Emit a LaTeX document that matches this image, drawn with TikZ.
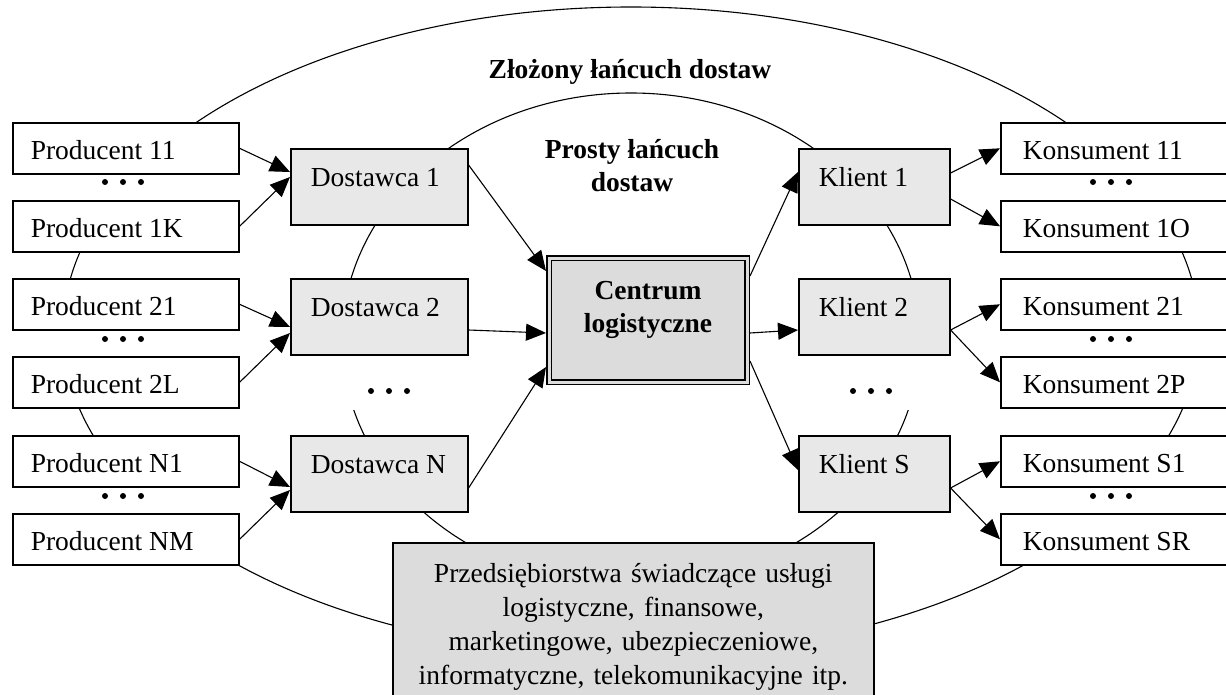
\documentclass[tikz,border=0pt]{standalone}
\usepackage{fontspec}
\setmainfont{Liberation Serif}
\usetikzlibrary{arrows.meta,calc}
\definecolor{boxgray}{HTML}{E8E8E8}
\definecolor{cgray}{HTML}{DCDCDC}
\begin{document}
\begin{tikzpicture}[x=1pt,y=-1pt,
  font=\fontsize{27.5}{34}\selectfont,
  pbox/.style={draw, line width=1.6pt, fill=white, anchor=north west,
    minimum height=51pt, inner xsep=18pt, inner ysep=0pt,
    text width=190pt, align=flush left, text height=37pt, text depth=14pt},
  konbox/.style={pbox, inner xsep=22pt, text width=196pt},
  dbox/.style={draw, line width=1.6pt, fill=boxgray, anchor=north west,
    inner xsep=20pt, inner ysep=0pt, text width=137pt, align=flush left,
    text height=38pt, text depth=38pt},
  kbox/.style={dbox, text width=111pt},
  cbox/.style={draw, line width=1.5pt, double=cgray, double distance=3pt,
    fill=cgray, anchor=north west, inner sep=0pt, outer sep=3pt,
    text width=198pt, align=center, text height=41pt, text depth=83pt,
    font=\fontsize{27.5}{33}\selectfont\bfseries},
  bbox/.style={draw, line width=1.6pt, fill=cgray, anchor=north west,
    inner sep=0pt, text width=481pt, align=center, text height=40pt,
    text depth=140pt},
  cover/.style={fill=white, inner sep=0pt},
  ring/.style={line width=1.1pt},
  conn/.style={line width=1.1pt, -{Triangle[length=20pt,width=17pt]}},
  lbl/.style={font=\fontsize{27.5}{33}\selectfont\bfseries, align=center}
]
\useasboundingbox (0,0) rectangle (1226,695);

% supply chain rings
\draw[ring] (631,331) ellipse [x radius=568pt, y radius=324pt];
\draw[ring] (631,340) ellipse [x radius=289pt, y radius=247pt];

% white gaps holding the dots
\node[cover, minimum width=226pt, minimum height=31pt] (gp1) at (125,186.5) {};
\node[cover, minimum width=226pt, minimum height=30pt] (gp2) at (125,343) {};
\node[cover, minimum width=226pt, minimum height=30pt] (gp3) at (125,500) {};
\node[cover, minimum width=240pt, minimum height=31pt] (gk1) at (1120,186.5) {};
\node[cover, minimum width=240pt, minimum height=30pt] (gk2) at (1120,343) {};
\node[cover, minimum width=240pt, minimum height=30pt] (gk3) at (1120,500) {};
\node[cover, minimum width=90pt, minimum height=56pt] (gd) at (385,382) {};
\node[cover, minimum width=90pt, minimum height=56pt] (gkl) at (878,382) {};

\foreach \y in {182,339,496} {
  \foreach \x in {105,123,141} \fill (\x,\y) circle (3pt);
  \foreach \x in {1093,1111,1129} \fill (\x,\y) circle (3pt);
}
\foreach \x in {371,389,407} \fill (\x,391) circle (3pt);
\foreach \x in {853,871,889} \fill (\x,391) circle (3pt);

% labels
\node[lbl] (zl) at (630,72) {Złożony łańcuch dostaw};
\node[lbl] (pl) at (632,166) {Prosty łańcuch\\dostaw};

% producers
\node[pbox, minimum width=226pt] (p11) at (12,122) {Producent 11};
\node[pbox] (p1k) at (12,200) {Producent 1K};
\node[pbox] (p21) at (12,278) {Producent 21};
\node[pbox] (p2l) at (12,356) {Producent 2L};
\node[pbox] (pn1) at (12,435) {Producent N1};
\node[pbox] (pnm) at (12,513) {Producent NM};

% suppliers
\node[dbox] (d1) at (290,148) {Dostawca 1};
\node[dbox] (d2) at (290,278) {Dostawca 2};
\node[dbox] (dn) at (290,435) {Dostawca N};

% centre
\node[cbox] (c) at (546,255) {Centrum\\logistyczne};

% clients
\node[kbox] (k1) at (798,148) {Klient 1};
\node[kbox] (k2) at (798,278) {Klient 2};
\node[kbox] (ks) at (798,435) {Klient S};

% consumers
\node[konbox] (q11) at (1000,122) {Konsument 11};
\node[konbox] (q1o) at (1000,200) {Konsument 1O};
\node[konbox] (q21) at (1000,278) {Konsument 21};
\node[konbox] (q2p) at (1000,356) {Konsument 2P};
\node[konbox] (qs1) at (1000,435) {Konsument S1};
\node[konbox] (qsr) at (1000,513) {Konsument SR};

% service companies
\node[bbox] (b) at (392,542) {Przedsiębiorstwa świadczące usługi\\logistyczne, finansowe,\\marketingowe, ubezpieczeniowe,\\informatyczne, telekomunikacyjne itp.};

% connectors producers -> suppliers
\draw[conn] (p11.east) -- ($(d1.north west)+(0,24)$);
\draw[conn] (p1k.east) -- ($(d1.north west)+(0,29)$);
\draw[conn] (p21.east) -- ($(d2.north west)+(0,49)$);
\draw[conn] (p2l.east) -- ($(d2.north west)+(0,55)$);
\draw[conn] (pn1.east) -- ($(dn.north west)+(0,52)$);
\draw[conn] (pnm.east) -- ($(dn.north west)+(0,55)$);

% suppliers -> centre
\draw[conn] ($(d1.north east)+(0,17)$) -- ($(c.north west)+(0,16)$);
\draw[conn] ($(d2.north east)+(0,52)$) -- ($(c.west)+(0,13)$);
\draw[conn] ($(dn.north east)+(0,53)$) -- ($(c.south west)+(0,-18)$);

% centre -> clients
\draw[conn] ($(c.north east)+(0,21)$) -- ($(k1.north west)+(0,24)$);
\draw[conn] ($(c.east)+(0,13)$) -- ($(k2.north west)+(0,52)$);
\draw[conn] ($(c.south east)+(0,-24)$) -- ($(ks.north west)+(0,35)$);

% clients -> consumers
\draw[conn] ($(k1.north east)+(0,25)$) -- (q11.west);
\draw[conn] ($(k1.north east)+(0,51)$) -- (q1o.west);
\draw[conn] ($(k2.north east)+(0,52)$) -- (q21.west);
\draw[conn] ($(k2.north east)+(0,52)$) -- (q2p.west);
\draw[conn] ($(ks.north east)+(0,53)$) -- (qs1.west);
\draw[conn] ($(ks.north east)+(0,53)$) -- (qsr.west);
\end{tikzpicture}
\end{document}
